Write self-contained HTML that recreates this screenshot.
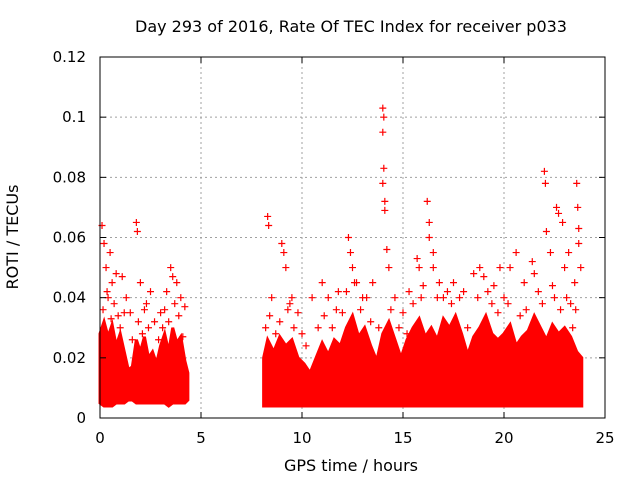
<!DOCTYPE html>
<html><head><meta charset="utf-8"><style>
body{margin:0;background:#fff}
svg text{font-family:"DejaVu Sans",sans-serif;font-size:15px;fill:#000}
svg text.ttl{font-size:16px}
</style></head><body>
<svg id="chart" width="640" height="480" xmlns="http://www.w3.org/2000/svg">
<text class="ttl" x="351" y="32" text-anchor="middle">Day 293 of 2016, Rate Of TEC Index for receiver p033</text>
<text class="ttl" x="351" y="471" text-anchor="middle">GPS time / hours</text>
<text class="ttl" transform="translate(18,237) rotate(-90)" text-anchor="middle">ROTI / TECUs</text>
<g id="grid"></g>
<g id="marks"></g>
<rect x="100" y="57" width="505" height="361" fill="none" stroke="#000" stroke-width="1"/>
<g id="ticks"></g>
</svg>
<script>
const xTicks=[0,5,10,15,20,25];
const yTicks=[0,0.02,0.04,0.06,0.08,0.1,0.12];
const yTickLabels=["0","0.02","0.04","0.06","0.08","0.1","0.12"];
const bandSeg1T=[0,0.2,0.4,0.6,0.8,1.0,1.2,1.4,1.6,1.8,2.0,2.2,2.4,2.6,2.8,3.0,3.2,3.4,3.6,3.8,4.0,4.2,4.35];
const bandSeg1Lo=[0.005,0.004,0.004,0.004,0.005,0.005,0.005,0.006,0.006,0.005,0.005,0.005,0.005,0.005,0.005,0.005,0.005,0.004,0.005,0.005,0.005,0.005,0.006];
const bandSeg1Hi=[0.028,0.032,0.027,0.031,0.024,0.028,0.022,0.016,0.017,0.026,0.022,0.027,0.02,0.022,0.018,0.024,0.028,0.022,0.03,0.025,0.027,0.019,0.015];
const bandSeg2T=[8.1,8.3,8.6,8.9,9.2,9.5,9.8,10.1,10.4,10.7,11.0,11.3,11.6,11.9,12.2,12.5,12.8,13.1,13.4,13.7,14.0,14.3,14.6,14.9,15.2,15.5,15.8,16.1,16.4,16.7,17.0,17.3,17.6,17.9,18.2,18.5,18.8,19.1,19.4,19.7,20.0,20.3,20.6,20.9,21.2,21.5,21.8,22.1,22.4,22.7,23.0,23.3,23.6,23.85];
const bandSeg2Lo=[0.004,0.004,0.004,0.004,0.004,0.004,0.004,0.004,0.004,0.004,0.004,0.004,0.004,0.004,0.004,0.004,0.004,0.004,0.004,0.004,0.004,0.004,0.004,0.004,0.004,0.004,0.004,0.004,0.004,0.004,0.004,0.004,0.004,0.004,0.004,0.004,0.004,0.004,0.004,0.004,0.004,0.004,0.004,0.004,0.004,0.004,0.004,0.004,0.004,0.004,0.004,0.004,0.004,0.004];
const bandSeg2Hi=[0.02,0.026,0.022,0.027,0.024,0.026,0.02,0.018,0.015,0.02,0.025,0.021,0.026,0.024,0.03,0.034,0.027,0.03,0.024,0.019,0.028,0.032,0.026,0.02,0.026,0.03,0.033,0.027,0.03,0.026,0.033,0.03,0.034,0.028,0.021,0.027,0.03,0.034,0.028,0.026,0.028,0.031,0.024,0.027,0.029,0.034,0.03,0.026,0.031,0.028,0.03,0.027,0.022,0.02];
const outT=[0.1,0.2,0.3,0.5,0.6,0.8,1.1,1.3,1.8,1.85,2.0,2.3,2.5,3.0,3.3,3.5,3.6,3.8,4.0,4.2,0.4,1.5,
8.3,8.35,8.5,9.0,9.1,9.2,9.5,9.8,10.5,11.0,11.3,11.8,12.3,12.4,12.5,12.7,13.0,13.5,14.0,14.05,14.0,14.05,14.0,14.1,14.1,14.2,14.3,14.6,15.0,15.3,15.7,15.8,16.2,16.3,16.3,16.5,16.5,16.8,17.0,17.5,18.0,18.5,18.8,19.0,19.5,19.8,20.3,20.6,21.0,21.4,21.5,22.0,22.05,22.1,22.3,22.6,22.7,22.9,23.0,23.2,23.6,23.65,23.7,23.7,23.8,23.5,
0.15,0.35,0.55,0.7,0.9,1.0,1.2,1.6,1.9,2.1,2.2,2.4,2.7,2.9,3.1,3.2,3.4,3.7,3.9,4.1,
8.2,8.4,8.7,8.9,9.3,9.4,9.6,10.0,10.2,10.8,11.1,11.5,11.7,12.0,12.2,12.6,12.9,13.2,13.4,13.8,14.4,14.8,15.2,15.5,15.9,16.0,16.7,17.2,17.4,17.8,18.2,18.7,19.2,19.4,19.7,20.0,20.2,20.8,21.1,21.7,21.9,22.4,22.5,22.8,23.1,23.3,23.4,23.55];
const outV=[0.064,0.058,0.05,0.055,0.045,0.048,0.047,0.04,0.065,0.062,0.045,0.038,0.042,0.035,0.042,0.05,0.047,0.045,0.04,0.037,0.04,0.035,
0.067,0.064,0.04,0.058,0.055,0.05,0.04,0.035,0.04,0.045,0.04,0.042,0.06,0.055,0.05,0.045,0.04,0.045,0.103,0.1,0.095,0.083,0.078,0.072,0.069,0.056,0.05,0.04,0.035,0.042,0.053,0.05,0.072,0.065,0.06,0.055,0.05,0.045,0.04,0.045,0.042,0.048,0.05,0.047,0.044,0.05,0.05,0.055,0.045,0.052,0.048,0.082,0.078,0.062,0.055,0.07,0.068,0.065,0.05,0.055,0.078,0.07,0.063,0.058,0.05,0.045,
0.036,0.042,0.033,0.038,0.034,0.03,0.035,0.026,0.032,0.028,0.036,0.03,0.032,0.026,0.03,0.036,0.032,0.038,0.034,0.027,
0.03,0.034,0.028,0.032,0.036,0.038,0.03,0.028,0.024,0.03,0.034,0.03,0.036,0.035,0.042,0.045,0.036,0.04,0.032,0.03,0.036,0.03,0.028,0.038,0.04,0.044,0.04,0.042,0.038,0.04,0.03,0.04,0.042,0.038,0.035,0.04,0.038,0.034,0.036,0.042,0.038,0.044,0.04,0.036,0.04,0.038,0.03,0.036];
const NS='http://www.w3.org/2000/svg';
const X=t=>100+t*20.2, Y=v=>418-v*3008.33;
function mk(tag,attrs,parent){const e=document.createElementNS(NS,tag);for(const k in attrs)e.setAttribute(k,attrs[k]);parent.appendChild(e);return e;}
const grid=document.getElementById('grid'),ticks=document.getElementById('ticks'),marks=document.getElementById('marks');
xTicks.forEach(t=>{
  if(t>0&&t<25){const g=mk('line',{x1:X(t),x2:X(t),y1:57,y2:418,stroke:'#a0a0a0','stroke-dasharray':'2,3'},grid);
  
  }
  const l=mk('text',{x:X(t),y:443,'text-anchor':'middle'},ticks);l.textContent=String(t);
  
  
  mk('line',{x1:X(t),x2:X(t),y1:418,y2:412,stroke:'#000'},ticks);
  mk('line',{x1:X(t),x2:X(t),y1:57,y2:63,stroke:'#000'},ticks);
});
yTicks.forEach((v,i)=>{
  if(i>0&&i<yTicks.length-1){const g=mk('line',{x1:100,x2:605,y1:Y(v),y2:Y(v),stroke:'#a0a0a0','stroke-dasharray':'2,3'},grid);
  
  }
  const l=mk('text',{x:86,y:Y(v)+5,'text-anchor':'end'},ticks);l.textContent=yTickLabels[i];
  
  
  mk('line',{x1:100,x2:106,y1:Y(v),y2:Y(v),stroke:'#000'},ticks);
  mk('line',{x1:599,x2:605,y1:Y(v),y2:Y(v),stroke:'#000'},ticks);
});
function band(T,Lo,Hi,name){
  let d='M'+X(T[0])+','+Y(Lo[0]);
  T.forEach((t,i)=>{d+=' L'+X(t)+','+Y(Hi[i]);});
  for(let i=T.length-1;i>=0;i--)d+=' L'+X(T[i])+','+Y(Lo[i]);
  const p=mk('path',{d:d+'Z',fill:'#ff0000',stroke:'#ff0000','stroke-width':3,'stroke-linejoin':'miter'},marks);
  
  
}
band(bandSeg1T,bandSeg1Lo,bandSeg1Hi,'dense-band-1');
band(bandSeg2T,bandSeg2Lo,bandSeg2Hi,'dense-band-2');
outT.forEach((t,i)=>{
  const x=X(t),y=Y(outV[i]);
  const p=mk('path',{d:`M${x-3.5},${y}H${x+3.5}M${x},${y-3.5}V${y+3.5}`,stroke:'#ff0000','stroke-width':1.2},marks);
  
  
});
</script>
</body></html>
